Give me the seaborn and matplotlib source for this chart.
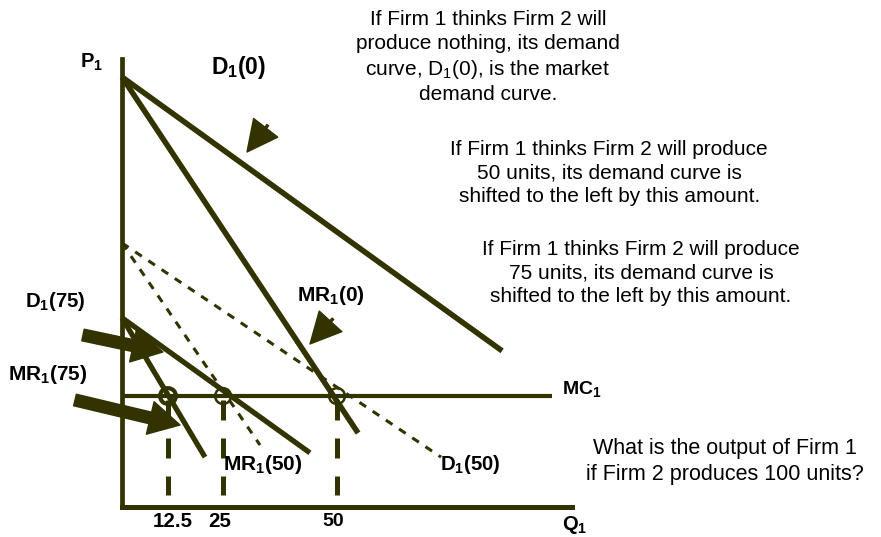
import matplotlib
matplotlib.use("Agg")
import matplotlib.pyplot as plt
import seaborn as sns

sns.set_theme(style="white")
plt.rcParams['font.family'] = ['Liberation Sans', 'DejaVu Sans']
plt.rcParams['mathtext.fontset'] = 'custom'
plt.rcParams['mathtext.rm'] = 'Liberation Sans'

INK = '#333300'

# ---- data (quantity Q1, price P1) ----
d0_q, d0_p = [0, 88.4], [100.0, 36.3]        # D1(0) market demand
mr0_q, mr0_p = [0, 54.9], [100.0, 17.2]      # MR1(0)
d50_q, d50_p = [0, 74.2], [61.4, 11.6]       # D1(50)
mr50_q, mr50_p = [0, 32.1], [61.4, 14.4]     # MR1(50)
d75_q, d75_p = [0, 43.7], [44.0, 12.6]       # D1(75)
mr75_q, mr75_p = [0, 19.3], [44.0, 11.6]     # MR1(75)
mc_q, mc_p = [0, 100.0], [25.8, 25.8]        # MC1
p_axis_q, p_axis_p = [0, 0], [0, 104.2]
q_axis_q, q_axis_p = [0, 104.7], [0, 0]
eq_q = [10.7, 23.5, 50.0]                    # MR = MC outputs
eq_p = [25.8, 25.8, 25.8]
drop_p = [24.9, 2.8]
tick_labels = ['12.5', '25', '50']
tick_q = [11.9, 22.8, 49.1]

# arrows: (tail Q, tail P) -> (tip Q, tip P)
head_arrows = [((33.9, 88.8), (29.07, 82.56)), ((49.05, 43.77), (43.72, 37.91))]
thick_arrows = [((-9.07, 40.0), (9.53, 36.05)), ((-10.93, 24.88), (13.49, 19.07))]

SCALE = 4.3
fig = plt.figure(figsize=(8.81, 5.37), dpi=100)
ax = fig.add_axes([0, 0, 1, 1])
ax.set_xlim(-122 / SCALE, (881 - 122) / SCALE)
ax.set_ylim(-(537 - 507) / SCALE, 507 / SCALE)
ax.axis('off')

def line(q, p, lw, ls='-', cap='butt'):
    sns.lineplot(x=q, y=p, ax=ax, color=INK, lw=lw, linestyle=ls,
                 estimator=None, sort=False, solid_capstyle=cap,
                 dash_capstyle='butt', legend=False)

line(p_axis_q, p_axis_p, 3.4, cap='projecting')
line(q_axis_q, q_axis_p, 3.6, cap='projecting')
line(mc_q, mc_p, 3.0)
line(d0_q, d0_p, 4.0)
line(mr0_q, mr0_p, 4.0)
line(d75_q, d75_p, 3.8)
line(mr75_q, mr75_p, 3.8)
thin_dash = (0, (2.6, 2.6))
line(d50_q, d50_p, 2.2, ls=thin_dash)
line(mr50_q, mr50_p, 2.2, ls=thin_dash)
for q in eq_q:
    line([q, q], drop_p, 3.6, ls=(0, (4.0, 3.6)))

sns.scatterplot(x=eq_q, y=eq_p, ax=ax, color=INK, s=130, marker='o',
                linewidth=1.8, legend=False)
pts = ax.collections[-1]
pts.set_facecolor('none')
pts.set_edgecolor(INK)
pts.set_linewidths([3.0, 1.8, 1.8])

for tail, tip in head_arrows:
    ax.annotate('', xy=tip, xytext=tail,
                arrowprops=dict(width=1.5, headwidth=22, headlength=22,
                                color=INK, shrink=0))
for tail, tip in thick_arrows:
    ax.annotate('', xy=tip, xytext=tail,
                arrowprops=dict(width=8.5, headwidth=24, headlength=22,
                                color=INK, shrink=0))

sub = r'$_\mathregular{1}$'
bold = dict(fontweight='bold', color='black', ha='center', va='center')
ax.text(-7.0, 103.3, 'P' + sub, fontsize=14.5, **bold)
ax.text(105.3, -4.3, 'Q' + sub, fontsize=14.5, **bold)
ax.text(27.2, 102.3, 'D' + sub + '(0)', fontsize=16.5, **bold)
ax.text(-15.6, 47.7, 'D' + sub + '(75)', fontsize=14.7, **bold)
ax.text(-17.2, 30.7, 'MR' + sub + '(75)', fontsize=15, **bold)
ax.text(48.6, 49.3, 'MR' + sub + '(0)', fontsize=15, **bold)
ax.text(32.8, 10.0, 'MR' + sub + '(50)', fontsize=15, **bold)
ax.text(80.9, 10.0, 'D' + sub + '(50)', fontsize=14.7, **bold)
ax.text(107.0, 27.2, 'MC' + sub, fontsize=14, **bold)
for q, lab in zip(tick_q, tick_labels):
    ax.text(q, -3.4, lab, fontsize=14 if lab == '50' else 14.8, **bold)

reg = dict(color='black', ha='center', va='center', fontsize=15,
           multialignment='center', linespacing=1.3)
ax.text(85.1, 104.6, 'If Firm 1 thinks Firm 2 will\nproduce nothing, its demand\n'
        'curve, D' + sub + '(0), is the market\ndemand curve.', **reg)
ax.text(113.3, 77.7, 'If Firm 1 thinks Firm 2 will produce\n50 units, its demand curve is\n'
        'shifted to the left by this amount.', **reg)
ax.text(120.7, 54.4, 'If Firm 1 thinks Firm 2 will produce\n75 units, its demand curve is\n'
        'shifted to the left by this amount.', **reg)
ax.text(140.2, 10.5, 'What is the output of Firm 1\nif Firm 2 produces 100 units?',
        color='black', ha='center', va='center', fontsize=15.5,
        multialignment='center', linespacing=1.3)

fig.savefig('out.png', dpi=100)
